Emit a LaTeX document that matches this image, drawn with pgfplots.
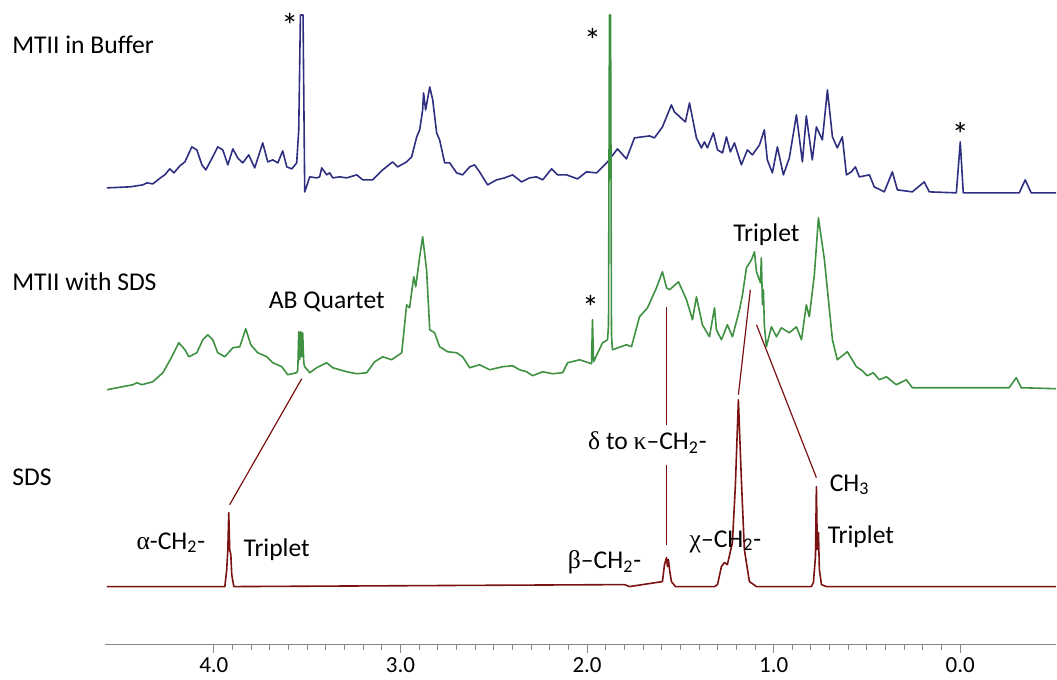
\documentclass[border=0pt]{standalone}
\usepackage{fontspec}
\setmainfont{Carlito}
\newfontfamily\grk{Liberation Serif}
\usepackage{pgfplots}
\pgfplotsset{compat=1.18}
\definecolor{navy}{HTML}{2E2F80}
\definecolor{sdsgreen}{HTML}{3F9142}
\definecolor{sdsred}{HTML}{7B1212}
\definecolor{axgray}{HTML}{8A8A8A}

\begin{document}
\begin{tikzpicture}
\begin{axis}[
  scale only axis,
  width=476pt, height=322.5pt,
  x dir=reverse,
  xmin=-0.514, xmax=4.584,
  ymin=0, ymax=645,
  axis x line=bottom,
  axis y line=none,
  axis line style={draw=axgray, line width=0.6pt, -},
  xtick={0,1,2,3,4},
  xticklabels={0.0,1.0,2.0,3.0,4.0},
  minor x tick num=9,
  tick align=outside,
  major tick length=4pt,
  minor tick length=2.5pt,
  tick style={draw=axgray, line width=0.5pt},
  xticklabel style={font=\fontsize{11.5}{13}\selectfont, yshift=1pt},
  /pgf/number format/assume math mode=true,
  clip=false,
  every axis plot/.append style={line join=round, mark=none},
]
% invisible frame fixing the page size
\path (axis cs:5.146,-33) rectangle (axis cs:-0.514,645);

% MTII in buffer
\addplot[navy, line width=0.8pt] coordinates {
(4.573,457) (4.450,458) (4.380,460) (4.359,462) (4.327,461) (4.279,468) (4.263,470)
(4.236,476) (4.214,472) (4.182,479) (4.155,483) (4.118,498) (4.091,495) (4.064,480)
(4.043,475) (4.006,488) (3.979,498) (3.952,495) (3.925,480) (3.898,496) (3.872,487)
(3.845,482) (3.813,490) (3.781,477) (3.738,502) (3.711,483) (3.684,485) (3.657,482)
(3.631,494) (3.609,478) (3.582,476) (3.556,482) (3.545,515) (3.536,630) (3.522,630)
(3.513,453) (3.486,468) (3.449,467) (3.433,468) (3.422,477) (3.395,470) (3.379,472)
(3.363,467) (3.325,468) (3.288,467) (3.234,470) (3.202,465) (3.149,465) (3.095,475)
(3.042,483) (3.015,478) (2.967,483) (2.940,488) (2.913,508) (2.897,515) (2.881,535)
(2.876,552) (2.865,535) (2.843,558) (2.827,545) (2.806,512) (2.790,505) (2.763,482)
(2.736,482) (2.699,472) (2.667,470) (2.629,478) (2.603,480) (2.576,473) (2.533,460)
(2.485,465) (2.442,467) (2.399,470) (2.351,463) (2.308,467) (2.271,468) (2.238,465)
(2.190,476) (2.158,470) (2.110,470) (2.051,466) (2.003,473) (1.949,472) (1.890,483)
(1.837,496) (1.789,486) (1.746,507) (1.665,509) (1.639,507) (1.596,518) (1.548,540)
(1.532,533) (1.473,523) (1.451,542) (1.414,507) (1.387,497) (1.371,503) (1.355,497)
(1.323,512) (1.301,495) (1.274,492) (1.253,508) (1.232,493) (1.210,502) (1.173,480)
(1.141,495) (1.114,490) (1.076,500) (1.050,515) (1.034,485) (1.007,472) (0.980,498)
(0.948,470) (0.916,487) (0.878,530) (0.846,483) (0.825,529) (0.793,485) (0.771,518)
(0.739,505) (0.712,555) (0.685,508) (0.659,497) (0.632,508) (0.610,470) (0.584,473)
(0.562,478) (0.541,468) (0.487,470) (0.461,458) (0.407,453) (0.364,473) (0.337,455)
(0.257,453) (0.193,463) (0.166,453) (0.021,452) (0.000,503) (-0.016,452) (-0.316,452)
(-0.348,465) (-0.380,452) (-0.514,452)
};

% MTII with SDS
\addplot[sdsgreen, line width=0.8pt] coordinates {
(4.573,255) (4.434,260) (4.412,262) (4.386,260) (4.327,263) (4.273,272) (4.225,288)
(4.188,302) (4.155,295) (4.134,288) (4.091,292) (4.059,305) (4.032,310) (4.006,305)
(3.979,292) (3.941,288) (3.898,297) (3.861,298) (3.829,316) (3.802,300) (3.765,292)
(3.716,288) (3.684,282) (3.636,278) (3.604,270) (3.556,272) (3.550,275) (3.545,313)
(3.540,285) (3.534,313) (3.529,288) (3.524,312) (3.518,282) (3.513,278) (3.486,272)
(3.449,277) (3.395,282) (3.363,277) (3.288,273) (3.234,271) (3.181,272) (3.138,283)
(3.095,288) (3.047,285) (2.993,292) (2.967,340) (2.951,337) (2.929,368) (2.918,358)
(2.897,388) (2.881,408) (2.860,375) (2.843,315) (2.817,312) (2.790,298) (2.747,293)
(2.699,292) (2.667,288) (2.629,277) (2.576,280) (2.522,275) (2.453,278) (2.399,279)
(2.362,275) (2.324,273) (2.292,269) (2.238,273) (2.185,271) (2.131,272) (2.104,282)
(2.040,285) (1.976,281) (1.971,325) (1.965,283) (1.917,302) (1.890,305) (1.885,320)
(1.880,630) (1.874,630) (1.869,310) (1.864,295) (1.789,300) (1.762,298) (1.719,328)
(1.676,337) (1.628,357) (1.596,373) (1.574,357) (1.558,355) (1.510,363) (1.467,345)
(1.435,325) (1.414,348) (1.382,320) (1.344,308) (1.317,337) (1.307,315) (1.280,305)
(1.248,320) (1.221,308) (1.183,335) (1.167,350) (1.146,377) (1.119,385) (1.103,393)
(1.092,373) (1.071,362) (1.066,387) (1.060,340) (1.055,355) (1.050,320) (1.039,298)
(1.012,318) (0.985,308) (0.959,317) (0.916,312) (0.878,318) (0.851,305) (0.825,340)
(0.809,328) (0.782,370) (0.760,427) (0.728,385) (0.712,355) (0.685,305) (0.659,285)
(0.605,293) (0.557,278) (0.525,274) (0.498,269) (0.466,272) (0.434,265) (0.396,268)
(0.343,260) (0.289,265) (0.257,257) (0.048,257) (-0.262,257) (-0.300,267) (-0.327,257)
(-0.514,256)
};

% SDS
\addplot[sdsred, line width=0.8pt] coordinates {
(4.573,58) (3.941,58) (3.931,75) (3.925,95) (3.920,132) (3.915,95) (3.909,90)
(3.904,70) (3.893,58) (1.799,60) (1.773,58) (1.596,63) (1.585,80) (1.574,87)
(1.569,78) (1.564,85) (1.558,75) (1.548,63) (1.526,58) (1.317,58) (1.301,60)
(1.280,78) (1.264,82) (1.248,80) (1.221,102) (1.205,160) (1.189,245) (1.173,165)
(1.157,95) (1.130,63) (1.092,58) (0.798,58) (0.787,62) (0.776,88) (0.771,158)
(0.766,95) (0.760,112) (0.755,75) (0.744,60) (0.718,58) (-0.514,58)
};

% connector lines between SDS and MTII/SDS signals
\draw[sdsred, line width=0.6pt] (axis cs:3.915,140) -- (axis cs:3.529,266);
\draw[sdsred, line width=0.6pt] (axis cs:1.574,338) -- (axis cs:1.574,220);
\draw[sdsred, line width=0.6pt] (axis cs:1.574,180) -- (axis cs:1.574,100);
\draw[sdsred, line width=0.6pt] (axis cs:1.189,250) -- (axis cs:1.125,355);
\draw[sdsred, line width=0.6pt] (axis cs:1.092,320) -- (axis cs:0.771,167);

% spectrum titles
\begin{scope}[every node/.style={font=\fontsize{12.8}{15}\selectfont, inner sep=0pt}]
\node[anchor=west] at (axis cs:5.082,600) {MTII in Buffer};
\node[anchor=west] at (axis cs:5.082,363) {MTII with SDS};
\node[anchor=west] at (axis cs:5.082,167) {SDS};
\node at (axis cs:3.395,343) {AB Quartet};
\node at (axis cs:1.039,410) {Triplet};
\node at (axis cs:1.676,202) {{\grk δ} to {\grk κ}–CH\textsubscript{2}-};
\node at (axis cs:4.230,102) {{\grk α}-CH\textsubscript{2}-};
\node at (axis cs:3.663,95) {Triplet};
\node at (axis cs:1.906,82) {{\grk β}–CH\textsubscript{2}-};
\node at (axis cs:1.258,103) {{\grk χ}–CH\textsubscript{2}-};
\node[anchor=west] at (axis cs:0.701,160) {CH\textsubscript{3}};
\node[anchor=west] at (axis cs:0.712,108) {Triplet};
\end{scope}

% impurity markers
\begin{scope}[every node/.style={font=\fontsize{17}{19}\selectfont, inner sep=0pt}]
\node at (axis cs:3.593,620) {*};
\node at (axis cs:1.971,605) {*};
\node at (axis cs:0.000,510) {*};
\node at (axis cs:1.981,337) {*};
\end{scope}
\end{axis}
\end{tikzpicture}
\end{document}
